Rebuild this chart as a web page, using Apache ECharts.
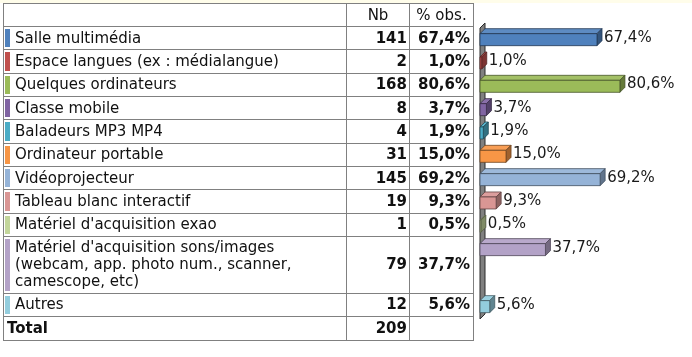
<!DOCTYPE html>
<html>
<head>
<meta charset="utf-8">
<script src="https://cdn.jsdelivr.net/npm/echarts@6/dist/echarts.min.js"></script>
<style>
  html, body { margin: 0; padding: 0; background: #ffffff; }
  body { width: 692px; height: 357px; position: relative; overflow: hidden; font-family: "DejaVu Sans", Verdana, sans-serif; }
  #strip { position: absolute; left: 0; top: 0; width: 692px; height: 3px; background: #fffdea; }
  #chart { position: absolute; left: 0; top: 0; width: 692px; height: 357px; }
  #table { position: absolute; left: 0; top: 0; width: 0; height: 0; }
  .cell { position: absolute; box-sizing: border-box; border-right: 1px solid #808080; border-bottom: 1px solid #808080;
          display: flex; align-items: center; font-size: 15px; line-height: 17px; color: #111; white-space: normal; }
  .lbl { padding-left: 11px; padding-right: 4px; }
  .num { justify-content: flex-end; font-weight: bold; padding-right: 2px; }
  .pct { justify-content: flex-end; font-weight: bold; padding-right: 3px; }
  .hdr { justify-content: center; font-weight: normal; padding: 0; }
  .marker { position: absolute; left: 1px; top: 2px; bottom: 2px; width: 5px; }
  .tot { padding-left: 3px; font-weight: bold; }
  .line { position: absolute; background: #808080; }
</style>
</head>
<body>
<div id="strip"></div>
<div id="chart"></div>
<div id="table"></div>
<script>
// ---- data ----
const categories = [
  "Salle multimédia",
  "Espace langues (ex : médialangue)",
  "Quelques ordinateurs",
  "Classe mobile",
  "Baladeurs MP3 MP4",
  "Ordinateur portable",
  "Vidéoprojecteur",
  "Tableau blanc interactif",
  "Matériel d'acquisition exao",
  "Matériel d'acquisition sons/images (webcam, app. photo num., scanner, camescope, etc)",
  "Autres"
];
const counts = [141, 2, 168, 8, 4, 31, 145, 19, 1, 79, 12];
const percents = [67.4, 1.0, 80.6, 3.7, 1.9, 15.0, 69.2, 9.3, 0.5, 37.7, 5.6];
const headers = ["", "Nb", "% obs."];
const totalLabel = "Total";
const totalCount = 209;

// ---- style / layout ----
const barColors = ["#4F81BD", "#C0504D", "#9BBB59", "#8064A2", "#4BACC6", "#F79646",
                   "#95B3D7", "#D99694", "#C3D69B", "#B3A2C7", "#93CDDD"];
const colX = [3, 346, 409, 473];          // column border lines
const tableTop = 3, headerH = 23;
const rowPx = [23.33, 23.33, 23.33, 23.33, 23.33, 23.33, 23.33, 23.33, 23.33, 57, 23];
const totalRowH = 24;
const normalRow = 23.33;

function fmtPct(v) { return v.toFixed(1).replace('.', ',') + '%'; }

// ---- table (HTML) ----
const tbl = document.getElementById('table');
function addLine(x, y, w, h) {
  const d = document.createElement('div'); d.className = 'line';
  d.style.left = x + 'px'; d.style.top = y + 'px'; d.style.width = w + 'px'; d.style.height = h + 'px';
  tbl.appendChild(d);
}
function addCell(col, yT, yB, cls, text, markerColor) {
  const d = document.createElement('div');
  d.className = 'cell ' + cls;
  d.style.left = (colX[col] + 1) + 'px';
  d.style.width = (colX[col + 1] - colX[col]) + 'px';
  d.style.top = (yT + 1) + 'px';
  d.style.height = (yB - yT) + 'px';
  const s = document.createElement('span'); s.textContent = text; d.appendChild(s);
  if (markerColor) { const m = document.createElement('div'); m.className = 'marker'; m.style.background = markerColor; d.appendChild(m); }
  tbl.appendChild(d);
}
let y = tableTop;
addCell(0, y, y + headerH, 'lbl', headers[0]);
addCell(1, y, y + headerH, 'hdr', headers[1]);
addCell(2, y, y + headerH, 'hdr', headers[2]);
y += headerH;
const dataTop = y;
const centres = [];
categories.forEach((c, i) => {
  const yB = y + rowPx[i];
  addCell(0, y, yB, 'lbl', c, barColors[i]);
  addCell(1, y, yB, 'num', String(counts[i]));
  addCell(2, y, yB, 'pct', fmtPct(percents[i]));
  centres.push(y - dataTop + normalRow / 2);
  y = yB;
});
const dataBottom = y;
addCell(0, y, y + totalRowH, 'tot', totalLabel);
addCell(1, y, y + totalRowH, 'num', String(totalCount));
addCell(2, y, y + totalRowH, 'pct', '');
const tableBottom = y + totalRowH;
addLine(colX[0], tableTop, colX[3] - colX[0] + 1, 1);
addLine(colX[0], tableTop, 1, tableBottom - tableTop + 1);

// ---- chart ----
const yMax = dataBottom - dataTop;
function shade(hex, f) {
  const n = parseInt(hex.slice(1), 16);
  let r = n >> 16, g = (n >> 8) & 255, b = n & 255;
  if (f < 0) { r *= 1 + f; g *= 1 + f; b *= 1 + f; }
  else { r += (255 - r) * f; g += (255 - g) * f; b += (255 - b) * f; }
  return 'rgb(' + Math.round(r) + ',' + Math.round(g) + ',' + Math.round(b) + ')';
}
const chart = echarts.init(document.getElementById('chart'), null, { renderer: 'canvas' });
chart.setOption({
  animation: false,
  backgroundColor: 'transparent',
  grid: { left: 480, top: dataTop, width: 173.6, height: yMax, containLabel: false },
  xAxis: { type: 'value', min: 0, max: 100, show: false },
  yAxis: { type: 'value', min: 0, max: yMax, inverse: true, show: false },
  series: [
    {
      type: 'custom', name: 'wall', silent: true,
      data: [[0, 0, yMax]],
      renderItem: function (params, api) {
        const a = api.coord([0, api.value(1)]);
        const b = api.coord([0, api.value(2)]);
        const x0 = a[0], d = 5;
        return {
          type: 'polygon',
          shape: { points: [[x0, a[1] + 2], [x0 + d, a[1] + 2 - d], [x0 + d, b[1] + 3 - d], [x0, b[1] + 3]] },
          style: { fill: '#808080', stroke: '#2a2a2a', lineWidth: 1 }
        };
      }
    },
    {
      type: 'custom', name: '% obs.',
      dimensions: ['pct', 'pos', 'idx'],
      encode: { x: 0, y: 1 },
      data: percents.map((p, i) => [p, centres[i], i]),
      renderItem: function (params, api) {
        const i = api.value(2), v = api.value(0);
        const p0 = api.coord([0, api.value(1)]);
        const p1 = api.coord([v, api.value(1)]);
        const x0 = p0[0], x1 = p1[0], cy = p0[1];
        const top = cy - 4, h = 12, d = 5;
        const col = barColors[i];
        const edge = shade(col, -0.55);
        return {
          type: 'group',
          children: [
            { type: 'polygon', shape: { points: [[x0, top], [x0 + d, top - d], [x1 + d, top - d], [x1, top]] },
              style: { fill: shade(col, 0.08), stroke: edge, lineWidth: 0.8 } },
            { type: 'polygon', shape: { points: [[x1, top], [x1 + d, top - d], [x1 + d, top - d + h], [x1, top + h]] },
              style: { fill: shade(col, -0.35), stroke: edge, lineWidth: 0.8 } },
            { type: 'rect', shape: { x: x0, y: top, width: Math.max(x1 - x0, 0), height: h },
              style: { fill: col, stroke: edge, lineWidth: 0.8 } },
            { type: 'text', x: x1 + d + 2, y: cy,
              style: { text: fmtPct(v), font: '15px "DejaVu Sans"', fill: '#1a1a1a', align: 'left', verticalAlign: 'middle' } }
          ]
        };
      }
    }
  ]
});
</script>
</body>
</html>
